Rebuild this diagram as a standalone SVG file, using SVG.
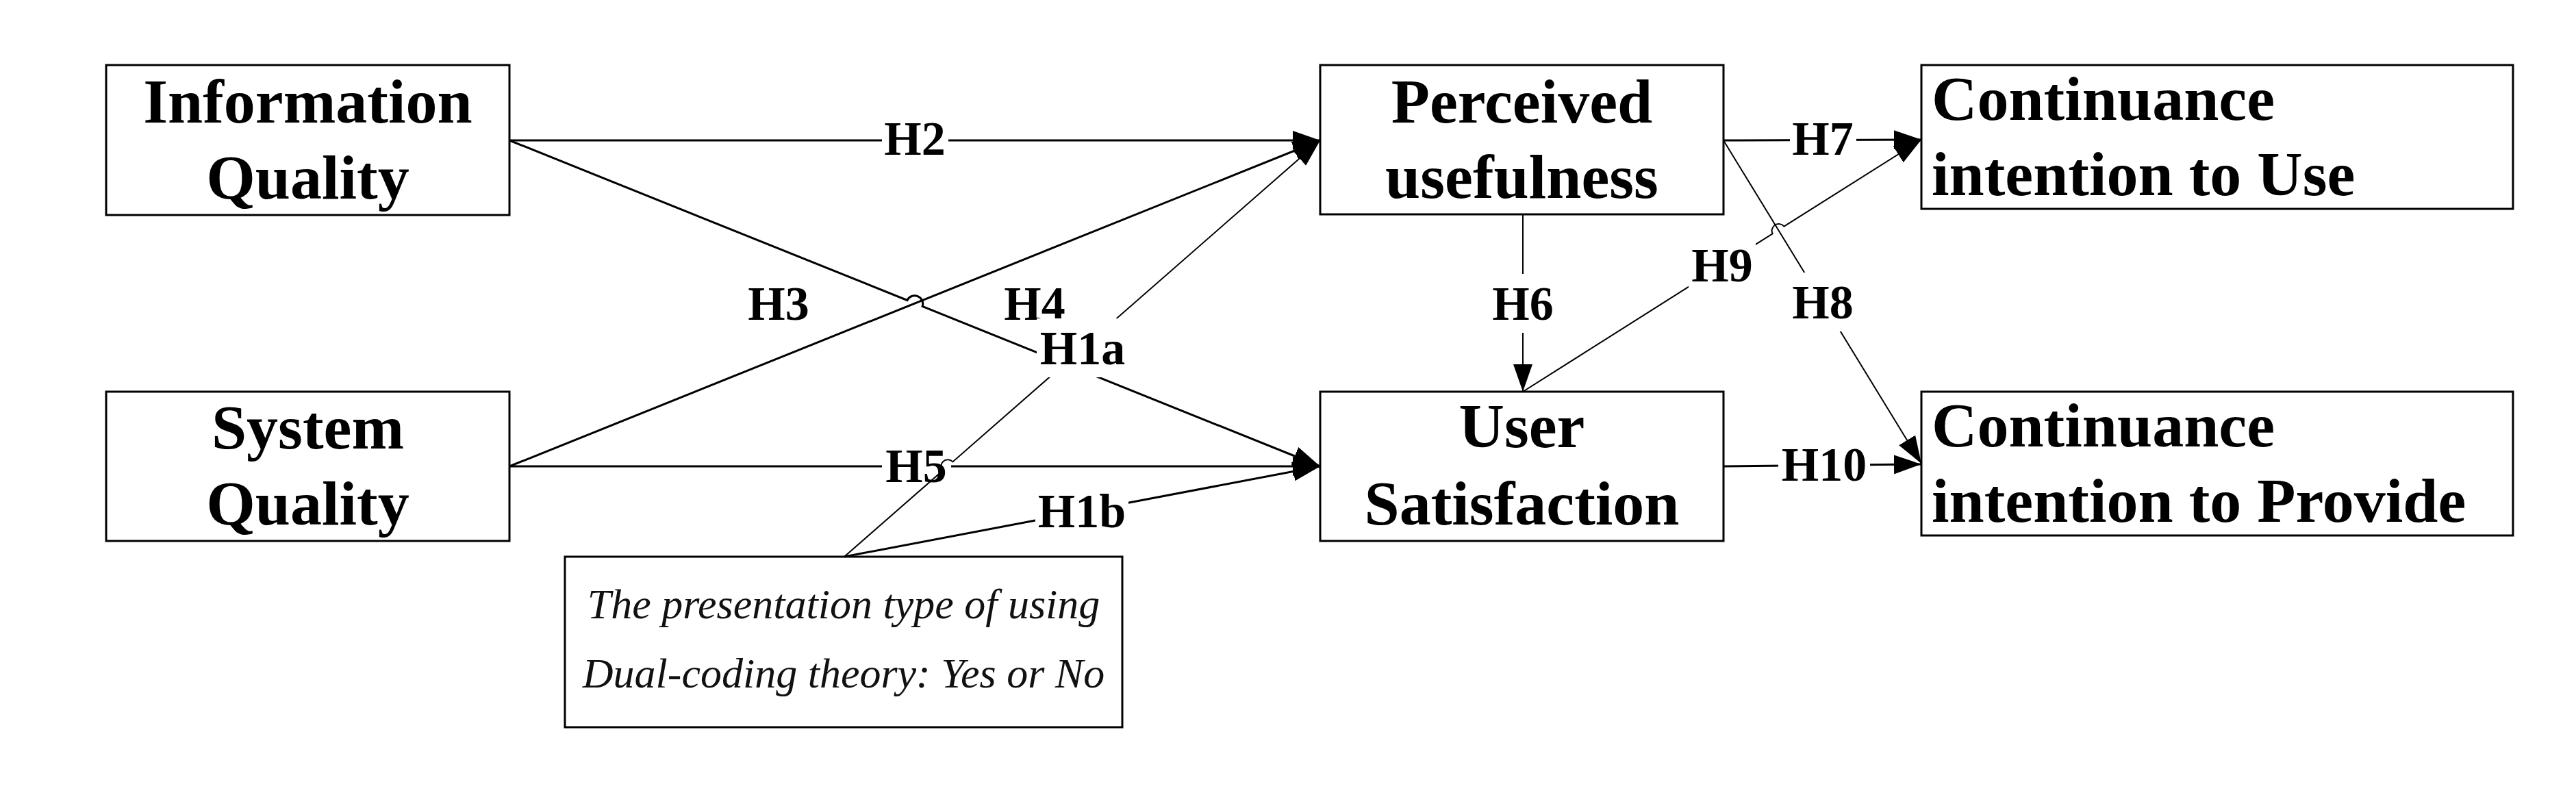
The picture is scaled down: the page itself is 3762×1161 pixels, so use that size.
<svg xmlns="http://www.w3.org/2000/svg" width="3762" height="1161" viewBox="0 0 3762 1161">
<style>
.box{fill:#fff;stroke:#000;stroke-width:3}
.nt{font-family:"Liberation Serif","Times New Roman",serif;font-weight:bold;font-size:92px;fill:#000}
.mid{text-anchor:middle}
.it{font-family:"Liberation Serif","Times New Roman",serif;font-style:italic;font-size:62px;fill:#111;text-anchor:middle}
.lbl{font-family:"Liberation Serif","Times New Roman",serif;font-weight:bold;font-size:70px;fill:#000;text-anchor:middle}
.c{fill:none;stroke:#000;stroke-width:3}
.thin{stroke-width:2}
.bg{fill:#fff;stroke:none}
</style>
<defs>
<marker id="arr" viewBox="0 0 40 28" markerWidth="40" markerHeight="28" refX="40" refY="14" markerUnits="userSpaceOnUse" orient="auto">
<path d="M0,0 L40,14 L0,28 z" fill="#000"/>
</marker>
</defs>
<rect x="0" y="0" width="3762" height="1161" fill="#fff"/>

<g id="nodes">
<g id="info-quality">
<rect class="box" x="155" y="95" width="589" height="219"/>
<text class="nt mid" x="449.5" y="179">Information</text>
<text class="nt mid" x="449.5" y="290">Quality</text>
</g>
<g id="system-quality">
<rect class="box" x="155" y="572" width="589" height="218"/>
<text class="nt mid" x="449.5" y="655">System</text>
<text class="nt mid" x="449.5" y="766">Quality</text>
</g>
<g id="perceived-usefulness">
<rect class="box" x="1928" y="95" width="589" height="218"/>
<text class="nt mid" x="2222.5" y="179">Perceived</text>
<text class="nt mid" x="2222.5" y="289">usefulness</text>
</g>
<g id="user-satisfaction">
<rect class="box" x="1928" y="572" width="589" height="218"/>
<text class="nt mid" x="2222.5" y="653">User</text>
<text class="nt mid" x="2222.5" y="766">Satisfaction</text>
</g>
<g id="continuance-use">
<rect class="box" x="2806" y="95" width="864" height="210"/>
<text class="nt" x="2821" y="175">Continuance</text>
<text class="nt" x="2821" y="285">intention to Use</text>
</g>
<g id="continuance-provide">
<rect class="box" x="2806" y="572" width="864" height="210"/>
<text class="nt" x="2821" y="652">Continuance</text>
<text class="nt" x="2821" y="762">intention to Provide</text>
</g>
<g id="dual-coding">
<rect class="box" x="825" y="813" width="814" height="249"/>
<text class="it" x="1232" y="903">The presentation type of using</text>
<text class="it" x="1232" y="1004">Dual-coding theory: Yes or No</text>
</g>
</g>

<g id="connectors">
<g id="c-H3">
<path class="c" d="M744,205 L1324.9,438.5 A12,12 0 0 1 1347.1,447.5 L1928,681" marker-end="url(#arr)"/>
<text class="lbl" x="1137" y="467">H3</text>
</g>
<g id="c-H4">
<path class="c" d="M744,681 L1928,205" marker-end="url(#arr)"/>
<text class="lbl" x="1511" y="467">H4</text>
</g>
<g id="c-H2">
<path class="c" d="M744,205 L1928,205" marker-end="url(#arr)"/>
<rect class="bg" x="1288" y="161" width="97" height="85"/>
<text class="lbl" x="1336" y="226">H2</text>
</g>
<g id="c-H5">
<path class="c" d="M744,681 L1928,681" marker-end="url(#arr)"/>
<rect class="bg" x="1288" y="640" width="101" height="84"/>
<text class="lbl" x="1338" y="704">H5</text>
</g>
<g id="c-H1a">
<path class="c thin" d="M1233,813 L1376.4,687.6 A10,10 0 0 1 1391.4,674.4 L1928,205" marker-end="url(#arr)"/>
<rect class="bg" x="1514" y="465" width="134" height="86"/>
<text class="lbl" x="1581" y="532">H1a</text>
</g>
<g id="c-H1b">
<path class="c" d="M1233,813 L1928,681" marker-end="url(#arr)"/>
<rect class="bg" x="1512" y="704" width="136" height="85"/>
<text class="lbl" x="1580" y="770">H1b</text>
</g>
<g id="c-H6">
<path class="c thin" d="M2224,313 L2224,572" marker-end="url(#arr)"/>
<rect class="bg" x="2176" y="400" width="96" height="86"/>
<text class="lbl" x="2224" y="467">H6</text>
</g>
<g id="c-H7">
<path class="c" d="M2517,205 L2806,204" marker-end="url(#arr)"/>
<rect class="bg" x="2614" y="161" width="97" height="85"/>
<text class="lbl" x="2662" y="226">H7</text>
</g>
<g id="c-H8">
<path class="c thin" d="M2517,205 L2806,677" marker-end="url(#arr)"/>
<rect class="bg" x="2614" y="398" width="97" height="86"/>
<text class="lbl" x="2662" y="465">H8</text>
</g>
<g id="c-H9">
<path class="c thin" d="M2224,572 L2588.6,341.3 A10,10 0 0 1 2605.4,330.7 L2806,204" marker-end="url(#arr)"/>
<rect class="bg" x="2466" y="343" width="98" height="87"/>
<text class="lbl" x="2515" y="411">H9</text>
</g>
<g id="c-H10">
<path class="c" d="M2517,681 L2806,678" marker-end="url(#arr)"/>
<rect class="bg" x="2597" y="637" width="134" height="84"/>
<text class="lbl" x="2664" y="702">H10</text>
</g>
</g>
</svg>
